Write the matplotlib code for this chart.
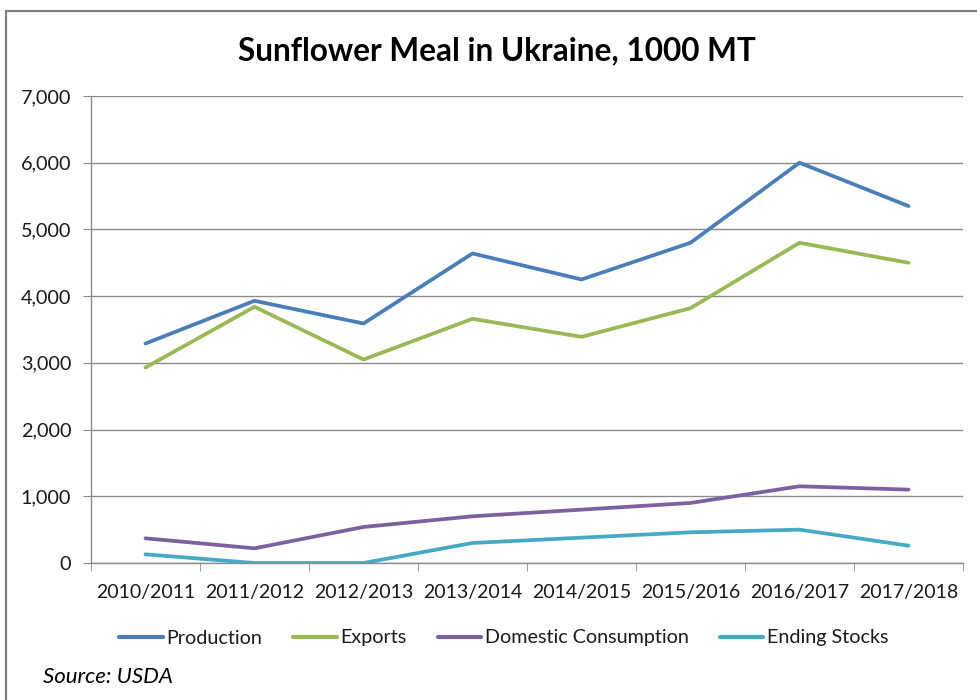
import matplotlib
matplotlib.use("Agg")
import matplotlib.pyplot as plt
from matplotlib.patches import Rectangle
import numpy as np

plt.rcParams['font.family'] = ['Lato', 'DejaVu Sans']

# Data, 1000 MT
seasons = ["2010/2011", "2011/2012", "2012/2013", "2013/2014",
           "2014/2015", "2015/2016", "2016/2017", "2017/2018"]
production = [3290, 3930, 3590, 4640, 4250, 4800, 6000, 5350]
exports = [2930, 3840, 3050, 3660, 3390, 3820, 4800, 4500]
domestic = [370, 220, 540, 700, 800, 900, 1150, 1100]
stocks = [130, 0, 0, 300, 380, 460, 500, 260]

series = [
    ("Production", production, "#4A7EBB"),
    ("Exports", exports, "#98B954"),
    ("Domestic Consumption", domestic, "#7D60A0"),
    ("Ending Stocks", stocks, "#46AAC5"),
]

W, H = 977, 700
fig = plt.figure(figsize=(W / 100, H / 100), dpi=100)

# outer chart border (runs off right and bottom edges like the screenshot)
fig.patches.append(Rectangle((6 / W, -0.1), 1.2, (H - 11) / H + 0.1,
                             transform=fig.transFigure, fill=False,
                             edgecolor="#808080", linewidth=1.6))

left, right, top, bottom = 91, 963, 96, 563
ax = fig.add_axes([left / W, 1 - bottom / H, (right - left) / W, (bottom - top) / H])

x = np.arange(len(seasons))
for name, vals, color in series:
    ax.plot(x, vals, color=color, linewidth=2.7, label=name, solid_capstyle="round")

ax.set_xlim(-0.5, len(seasons) - 0.5)
ax.set_ylim(0, 7000)
ax.set_yticks(range(0, 7001, 1000))
ax.set_yticklabels([f"{v:,}" for v in range(0, 7001, 1000)])
ax.yaxis.grid(True, color="#8c8c8c", linewidth=1)
ax.set_axisbelow(True)

ax.set_xticks(x)
ax.set_xticklabels(seasons)
ax.set_xticks(np.arange(-0.5, len(seasons)), minor=True)
ax.tick_params(axis="x", which="major", length=0, pad=15, labelsize=14, labelcolor="#1a1a1a")
ax.tick_params(axis="x", which="minor", length=5.5, color="#8c8c8c", direction="out")
ax.tick_params(axis="y", length=5.8, color="#8c8c8c", pad=8.5, labelsize=14.3, labelcolor="#1a1a1a")

for s in ["top", "right"]:
    ax.spines[s].set_visible(False)
for s in ["left", "bottom"]:
    ax.spines[s].set_color("#8c8c8c")
    ax.spines[s].set_linewidth(1)

fig.text(497 / W, 1 - 51 / H, "Sunflower Meal in Ukraine, 1000 MT",
         ha="center", va="center", fontsize=22.7, fontweight="bold")

leg = fig.legend(loc="center", bbox_to_anchor=(504 / W, 1 - 638 / H), ncol=4,
                 frameon=False, fontsize=14.2, handlelength=2.2, handletextpad=0.2,
                 columnspacing=1.57)
for t in leg.get_texts():
    t.set_color("#1a1a1a")
for h in leg.get_lines():
    h.set_linewidth(3)

fig.text(43 / W, 1 - 677 / H, "Source: USDA", ha="left", va="center",
         fontsize=16, style="italic")

fig.savefig("out.png", dpi=100)
